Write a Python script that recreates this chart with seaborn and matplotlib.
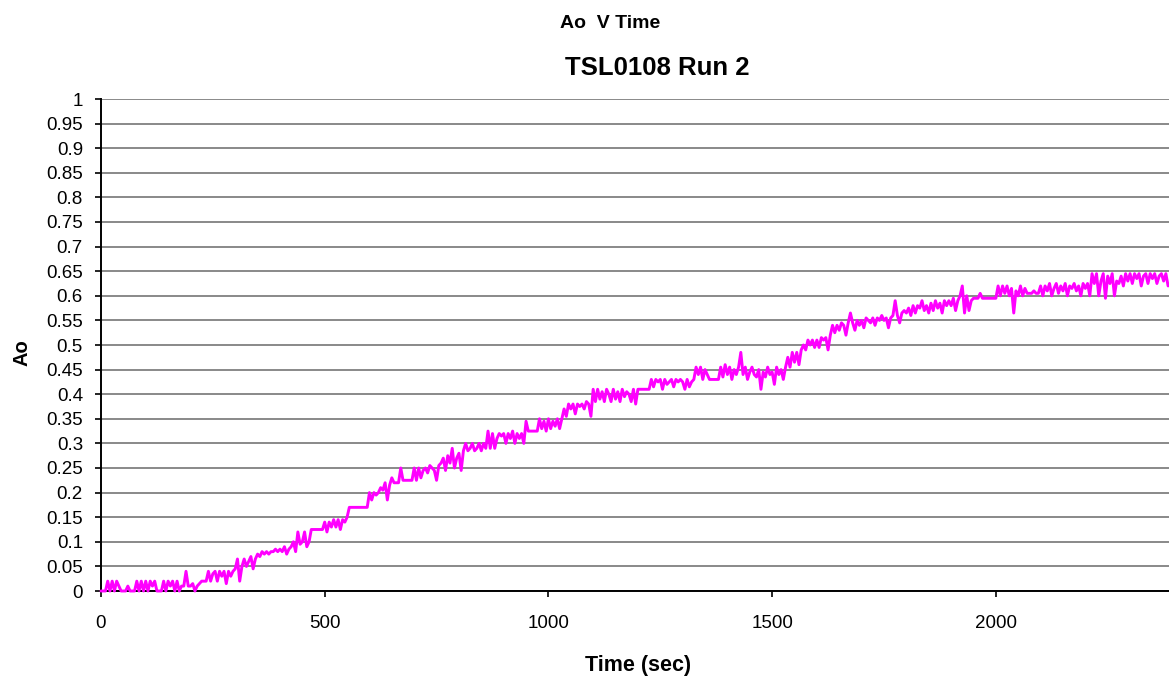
import numpy as np
import pandas as pd
import matplotlib
matplotlib.use("Agg")
import matplotlib.pyplot as plt
from matplotlib.ticker import MultipleLocator, FormatStrFormatter
import seaborn as sns

# --- data, one sample every 5 s ---
SAMPLE_STEP = 5  # seconds between samples

AO = [
    # 0 - 95 s
    0, 0, 0, 0.02, 0, 0.02, 0, 0.02, 0.01, 0, 0, 0, 0.01, 0, 0, 0, 0.02, 0, 0.02, 0,
    # 100 - 195 s
    0.02, 0, 0.02, 0.01, 0.02, 0, 0, 0, 0.02, 0, 0.02, 0.01, 0.02, 0, 0.02, 0, 0.01, 0.01, 0.04, 0.01,
    # 200 - 295 s
    0.01, 0.015, 0, 0.01, 0.015, 0.02, 0.02, 0.02, 0.04, 0.02, 0.035, 0.04, 0.02, 0.04, 0.03, 0.04, 0.015, 0.04, 0.03, 0.04,
    # 300 - 395 s
    0.045, 0.065, 0.02, 0.05, 0.065, 0.05, 0.06, 0.07, 0.045, 0.065, 0.075, 0.07, 0.08, 0.075, 0.08, 0.075, 0.08, 0.08, 0.085, 0.08,
    # 400 - 495 s
    0.085, 0.08, 0.09, 0.075, 0.085, 0.09, 0.1, 0.08, 0.12, 0.095, 0.1, 0.12, 0.09, 0.1, 0.125, 0.125, 0.125, 0.125, 0.125, 0.125,
    # 500 - 595 s
    0.14, 0.12, 0.14, 0.13, 0.145, 0.13, 0.145, 0.125, 0.145, 0.14, 0.15, 0.17, 0.17, 0.17, 0.17, 0.17, 0.17, 0.17, 0.17, 0.17,
    # 600 - 695 s
    0.2, 0.185, 0.2, 0.195, 0.2, 0.21, 0.205, 0.22, 0.185, 0.215, 0.23, 0.22, 0.22, 0.22, 0.25, 0.225, 0.225, 0.225, 0.225, 0.225,
    # 700 - 795 s
    0.25, 0.225, 0.25, 0.23, 0.245, 0.25, 0.24, 0.255, 0.25, 0.245, 0.225, 0.255, 0.26, 0.27, 0.245, 0.275, 0.26, 0.29, 0.25, 0.27,
    # 800 - 895 s
    0.28, 0.245, 0.285, 0.3, 0.285, 0.29, 0.3, 0.285, 0.29, 0.3, 0.285, 0.3, 0.29, 0.325, 0.29, 0.32, 0.29, 0.31, 0.32, 0.315,
    # 900 - 995 s
    0.32, 0.3, 0.32, 0.31, 0.325, 0.3, 0.32, 0.31, 0.32, 0.3, 0.345, 0.325, 0.325, 0.325, 0.325, 0.325, 0.35, 0.33, 0.345, 0.325,
    # 1000 - 1095 s
    0.35, 0.33, 0.345, 0.335, 0.35, 0.33, 0.35, 0.37, 0.355, 0.38, 0.37, 0.38, 0.36, 0.38, 0.375, 0.38, 0.37, 0.385, 0.38, 0.355,
    # 1100 - 1195 s
    0.41, 0.385, 0.41, 0.39, 0.405, 0.385, 0.41, 0.4, 0.385, 0.41, 0.39, 0.405, 0.385, 0.41, 0.395, 0.405, 0.4, 0.385, 0.41, 0.38,
    # 1200 - 1295 s
    0.41, 0.41, 0.41, 0.41, 0.41, 0.41, 0.43, 0.415, 0.43, 0.425, 0.43, 0.41, 0.43, 0.42, 0.425, 0.43, 0.415, 0.43, 0.425, 0.43,
    # 1300 - 1395 s
    0.425, 0.41, 0.43, 0.415, 0.425, 0.43, 0.455, 0.44, 0.455, 0.43, 0.45, 0.44, 0.43, 0.43, 0.43, 0.43, 0.43, 0.455, 0.435, 0.46,
    # 1400 - 1495 s
    0.44, 0.455, 0.43, 0.45, 0.44, 0.455, 0.485, 0.44, 0.455, 0.43, 0.445, 0.455, 0.44, 0.435, 0.45, 0.41, 0.445, 0.435, 0.455, 0.44,
    # 1500 - 1595 s
    0.445, 0.42, 0.455, 0.44, 0.45, 0.43, 0.455, 0.475, 0.455, 0.485, 0.465, 0.485, 0.46, 0.49, 0.5, 0.49, 0.51, 0.5, 0.51, 0.495,
    # 1600 - 1695 s
    0.51, 0.495, 0.515, 0.51, 0.515, 0.49, 0.52, 0.54, 0.525, 0.54, 0.53, 0.545, 0.54, 0.52, 0.545, 0.565, 0.545, 0.53, 0.55, 0.54,
    # 1700 - 1795 s
    0.55, 0.535, 0.555, 0.55, 0.545, 0.555, 0.54, 0.555, 0.55, 0.56, 0.55, 0.555, 0.535, 0.555, 0.56, 0.59, 0.56, 0.545, 0.565, 0.57,
    # 1800 - 1895 s
    0.565, 0.575, 0.56, 0.58, 0.565, 0.58, 0.575, 0.59, 0.57, 0.58, 0.565, 0.585, 0.57, 0.59, 0.575, 0.585, 0.565, 0.59, 0.58, 0.59,
    # 1900 - 1995 s
    0.58, 0.595, 0.57, 0.59, 0.6, 0.62, 0.565, 0.6, 0.57, 0.59, 0.595, 0.595, 0.595, 0.605, 0.595, 0.595, 0.595, 0.595, 0.595, 0.595,
    # 2000 - 2095 s
    0.595, 0.62, 0.6, 0.62, 0.605, 0.62, 0.6, 0.615, 0.565, 0.61, 0.6, 0.62, 0.6, 0.615, 0.605, 0.605, 0.605, 0.61, 0.605, 0.605,
    # 2100 - 2195 s
    0.62, 0.6, 0.62, 0.61, 0.625, 0.6, 0.615, 0.625, 0.605, 0.62, 0.61, 0.625, 0.6, 0.62, 0.615, 0.625, 0.61, 0.62, 0.6, 0.625,
    # 2200 - 2295 s
    0.615, 0.625, 0.6, 0.645, 0.625, 0.645, 0.6, 0.63, 0.645, 0.595, 0.64, 0.625, 0.645, 0.6, 0.63, 0.625, 0.64, 0.62, 0.645, 0.63,
    # 2300 - 2385 s
    0.645, 0.625, 0.645, 0.635, 0.645, 0.62, 0.64, 0.645, 0.625, 0.645, 0.635, 0.645, 0.625, 0.64, 0.645, 0.63, 0.645, 0.62,
]

TIME = np.arange(len(AO)) * SAMPLE_STEP

SUPTITLE = "Ao  V Time"
TITLE = "TSL0108 Run 2"
X_LABEL = "Time (sec)"
Y_LABEL = "Ao"
X_MAX = 2387

# --- plot ---
sns.set_theme(style="white")
plt.rcParams['font.family'] = ['Liberation Sans', 'DejaVu Sans']

df = pd.DataFrame({"time": TIME, "ao": AO})

fig = plt.figure(figsize=(11.69, 6.79), dpi=100)
ax = fig.add_axes([101 / 1169, 1 - 591 / 679, 1 - 101 / 1169, 492 / 679])

sns.lineplot(data=df, x="time", y="ao", ax=ax, color="#FF00FF",
             linewidth=2.1, estimator=None, clip_on=False, zorder=5)

ax.set_xlim(0, X_MAX)
ax.set_ylim(0, 1)
ax.yaxis.set_major_locator(MultipleLocator(0.05))
ax.yaxis.set_major_formatter(FormatStrFormatter('%g'))
ax.xaxis.set_major_locator(MultipleLocator(500))

ax.grid(axis='y', color='#808080', linewidth=1.3)
ax.grid(axis='x', visible=False)
ax.set_axisbelow(True)

for side in ('top', 'right'):
    ax.spines[side].set_visible(False)
for side in ('left', 'bottom'):
    ax.spines[side].set_color('black')
    ax.spines[side].set_linewidth(1.4)
    ax.spines[side].set_zorder(4)

ax.tick_params(axis='y', direction='out', length=4.5, width=1.2, color='black',
               labelsize=13.5, pad=8.5, left=True, labelcolor='black')
ax.tick_params(axis='x', direction='out', length=4.5, width=1.2, color='black',
               labelsize=13.5, pad=13, bottom=True, labelcolor='black')

ax.set_xlabel(X_LABEL, fontsize=15.5, fontweight='bold', color='black')
ax.xaxis.set_label_coords((638 - 101) / 1068, (591 - 665) / 492)
ax.xaxis.label.set_va('center')
ax.set_ylabel(Y_LABEL, fontsize=14.5, fontweight='bold', color='black')
ax.yaxis.set_label_coords((22 - 101) / 1068, (591 - 353) / 492)
ax.yaxis.label.set_va('center')
ax.yaxis.label.set_ha('center')

fig.text(610 / 1169, 1 - 24 / 679, SUPTITLE, ha='center', va='center',
         fontsize=14, fontweight='bold', color='black')
fig.text(657 / 1169, 1 - 68 / 679, TITLE, ha='center', va='center',
         fontsize=18.5, fontweight='bold', color='black')

fig.savefig("out.png", dpi=100)
